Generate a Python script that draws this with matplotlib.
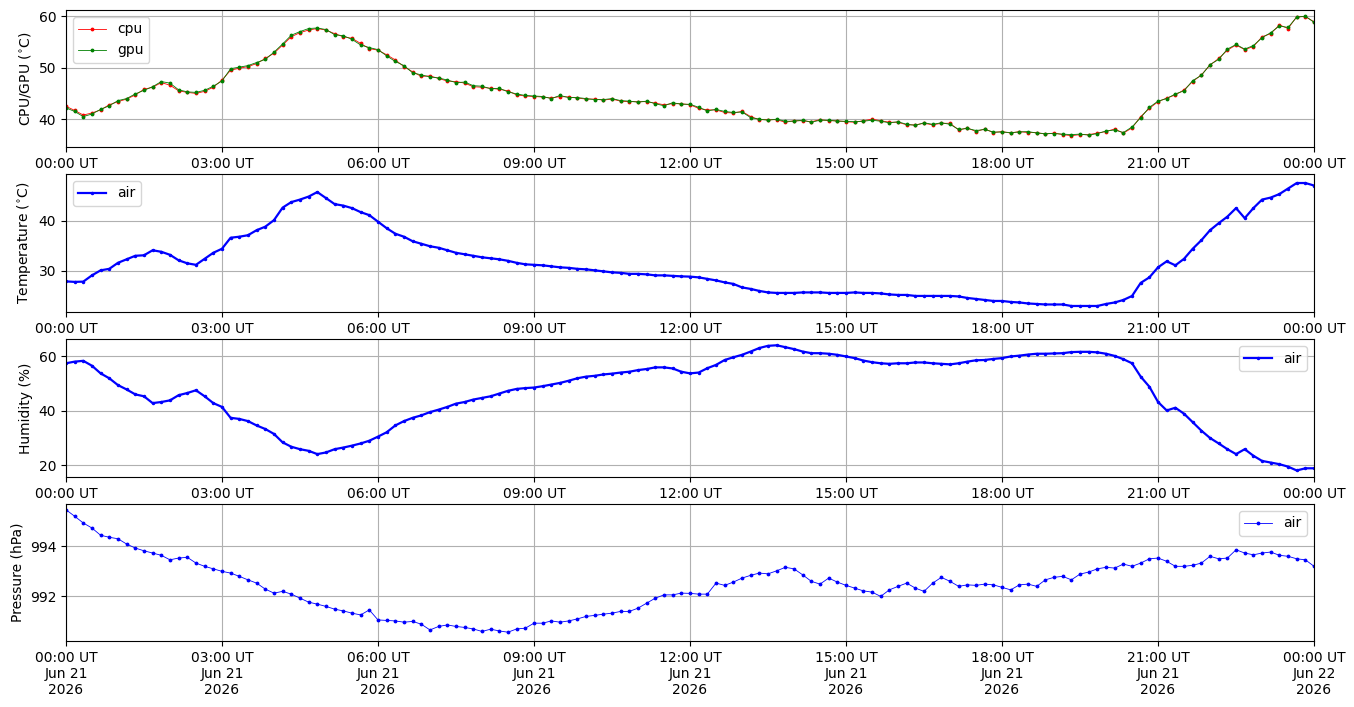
import numpy as np
import matplotlib
matplotlib.use('Agg')
import matplotlib.pyplot as plt
import matplotlib.dates as mdates
from matplotlib.ticker import MultipleLocator

# readings every 10 minutes, Jun 21 2026 00:00 -> Jun 22 00:00 (UT)
times = np.arange(np.datetime64('2026-06-21T00:00'), np.datetime64('2026-06-22T00:10'),
                  np.timedelta64(10, 'm'))

cpu = [42.5, 41.7, 40.8, 41.2, 41.8, 42.8,
       43.4, 43.9, 44.7, 45.8, 46.2, 47.1,
       46.6, 45.5, 45.2, 45.0, 45.4, 46.2,
       47.6, 49.5, 49.9, 50.2, 50.8, 51.8,
       52.8, 54.4, 56.0, 56.8, 57.3, 57.6,
       57.3, 56.6, 56.0, 55.7, 54.7, 53.7,
       53.4, 52.5, 51.5, 50.2, 49.2, 48.3,
       48.4, 47.9, 47.4, 47.3, 47.0, 46.3,
       46.2, 46.0, 45.8, 45.5, 44.7, 44.5,
       44.4, 44.3, 44.1, 44.4, 44.3, 44.1,
       43.9, 43.9, 43.7, 43.9, 43.5, 43.4,
       43.4, 43.4, 43.1, 42.8, 43.0, 43.0,
       42.8, 42.1, 41.8, 41.8, 41.3, 41.2,
       41.5, 40.5, 39.9, 39.9, 39.9, 39.4,
       39.7, 39.7, 39.5, 39.9, 39.7, 39.7,
       39.5, 39.4, 39.7, 40.0, 39.7, 39.4,
       39.4, 38.9, 38.9, 39.2, 38.9, 39.2,
       39.2, 37.9, 38.3, 37.6, 38.1, 37.4,
       37.6, 37.3, 37.6, 37.4, 37.4, 37.1,
       37.3, 37.0, 36.8, 37.0, 37.0, 37.3,
       37.6, 38.1, 37.3, 38.3, 40.5, 42.1,
       43.4, 44.1, 44.7, 45.7, 47.3, 48.6,
       50.5, 51.8, 53.4, 54.4, 53.5, 54.1,
       56.0, 56.6, 58.3, 57.6, 59.9, 59.9,
       58.9]

gpu = [42.2, 41.5, 40.5, 41.0, 41.9, 42.6,
       43.6, 44.0, 44.9, 45.6, 46.3, 47.3,
       47.0, 45.7, 45.3, 45.2, 45.6, 46.4,
       47.4, 49.8, 50.1, 50.4, 51.0, 51.6,
       53.0, 54.6, 56.3, 57.0, 57.6, 57.7,
       57.4, 56.4, 56.2, 55.5, 54.4, 53.9,
       53.5, 52.3, 51.2, 50.4, 49.0, 48.6,
       48.2, 48.0, 47.6, 47.1, 47.2, 46.5,
       46.4, 45.9, 46.0, 45.3, 44.9, 44.6,
       44.5, 44.4, 44.0, 44.6, 44.2, 44.2,
       44.0, 43.8, 43.8, 44.0, 43.6, 43.5,
       43.3, 43.5, 43.0, 42.6, 43.2, 42.9,
       42.9, 42.3, 41.6, 41.9, 41.5, 41.3,
       41.4, 40.3, 40.0, 39.8, 40.0, 39.6,
       39.6, 39.8, 39.4, 39.8, 39.8, 39.6,
       39.6, 39.5, 39.6, 39.8, 39.6, 39.3,
       39.5, 39.0, 38.8, 39.3, 39.0, 39.3,
       39.0, 38.0, 38.2, 37.8, 38.0, 37.5,
       37.5, 37.4, 37.5, 37.6, 37.3, 37.2,
       37.2, 37.1, 37.0, 37.1, 36.9, 37.2,
       37.7, 37.9, 37.4, 38.5, 40.3, 42.3,
       43.5, 44.0, 44.9, 45.5, 47.5, 48.5,
       50.6, 51.6, 53.6, 54.5, 53.6, 54.3,
       55.8, 56.8, 58.1, 57.8, 59.8, 60.0,
       58.8]

air_temp = [27.9, 27.8, 27.85, 29.1, 30.1, 30.4,
            31.6, 32.3, 33.0, 33.1, 34.1, 33.8,
            33.2, 32.1, 31.5, 31.2, 32.4, 33.6,
            34.4, 36.6, 36.8, 37.1, 38.1, 38.8,
            40.1, 42.6, 43.7, 44.2, 44.8, 45.7,
            44.5, 43.3, 43.0, 42.5, 41.7, 41.1,
            39.8, 38.5, 37.4, 36.8, 35.9, 35.4,
            34.9, 34.6, 34.1, 33.6, 33.3, 33.0,
            32.7, 32.5, 32.3, 32.0, 31.6, 31.3,
            31.2, 31.1, 30.9, 30.7, 30.6, 30.4,
            30.3, 30.1, 29.9, 29.7, 29.6, 29.4,
            29.4, 29.3, 29.1, 29.1, 29.0, 28.9,
            28.85, 28.7, 28.4, 28.1, 27.7, 27.4,
            26.7, 26.4, 26.0, 25.7, 25.6, 25.6,
            25.6, 25.7, 25.7, 25.7, 25.6, 25.6,
            25.6, 25.7, 25.6, 25.6, 25.5, 25.3,
            25.2, 25.2, 25.0, 25.0, 25.0, 25.0,
            25.0, 24.9, 24.6, 24.4, 24.2, 24.0,
            24.0, 23.8, 23.7, 23.5, 23.4, 23.3,
            23.3, 23.3, 23.0, 23.0, 23.0, 23.0,
            23.4, 23.7, 24.2, 25.0, 27.6, 28.7,
            30.7, 31.9, 31.1, 32.4, 34.4, 36.1,
            38.1, 39.5, 40.8, 42.5, 40.5, 42.5,
            44.2, 44.6, 45.3, 46.4, 47.5, 47.5,
            47.0]

humidity = [57.4, 58.0, 58.3, 56.5, 53.7, 51.9,
            49.4, 47.8, 46.0, 45.3, 42.8, 43.2,
            43.8, 45.7, 46.5, 47.5, 45.3, 42.8,
            41.4, 37.4, 37.0, 36.2, 34.6, 33.3,
            31.5, 28.4, 26.8, 25.9, 25.3, 24.1,
            24.7, 25.9, 26.5, 27.2, 28.0, 29.0,
            30.5, 32.1, 34.6, 36.2, 37.4, 38.3,
            39.5, 40.4, 41.4, 42.6, 43.2, 44.1,
            44.7, 45.3, 46.3, 47.3, 48.0, 48.3,
            48.5, 49.0, 49.6, 50.2, 51.0, 51.9,
            52.5, 52.8, 53.3, 53.6, 54.0, 54.3,
            54.9, 55.3, 55.9, 55.9, 55.5, 54.3,
            53.7, 54.0, 55.6, 56.8, 58.6, 59.6,
            60.5, 61.7, 63.0, 63.8, 64.0, 63.3,
            62.6, 61.7, 61.1, 61.1, 60.9, 60.5,
            59.9, 59.3, 58.4, 57.8, 57.4, 57.2,
            57.4, 57.4, 57.7, 57.7, 57.4, 57.2,
            57.0, 57.4, 58.0, 58.5, 58.6, 59.0,
            59.3, 59.9, 60.2, 60.6, 60.9, 60.9,
            61.0, 61.1, 61.5, 61.6, 61.6, 61.4,
            60.9, 60.1, 58.9, 57.4, 52.5, 48.8,
            43.2, 40.1, 41.1, 38.9, 35.8, 32.7,
            30.0, 28.0, 25.9, 24.1, 25.9, 23.5,
            21.6, 21.0, 20.4, 19.5, 18.1, 18.9,
            18.9]

pressure = [995.45, 995.19, 994.92, 994.72, 994.43, 994.35,
            994.29, 994.08, 993.92, 993.81, 993.72, 993.63,
            993.45, 993.52, 993.55, 993.32, 993.19, 993.09,
            992.99, 992.92, 992.79, 992.65, 992.52, 992.28,
            992.12, 992.19, 992.08, 991.92, 991.76, 991.68,
            991.59, 991.48, 991.41, 991.32, 991.25, 991.45,
            991.05, 991.03, 991.01, 990.96, 990.99, 990.88,
            990.65, 990.79, 990.85, 990.79, 990.75, 990.69,
            990.59, 990.68, 990.61, 990.56, 990.69, 990.72,
            990.92, 990.92, 991.01, 990.96, 991.01, 991.09,
            991.19, 991.23, 991.28, 991.32, 991.39, 991.39,
            991.52, 991.72, 991.92, 992.05, 992.05, 992.12,
            992.11, 992.08, 992.08, 992.52, 992.43, 992.56,
            992.72, 992.83, 992.92, 992.89, 993.01, 993.15,
            993.09, 992.85, 992.59, 992.48, 992.72, 992.56,
            992.43, 992.32, 992.21, 992.16, 991.99, 992.25,
            992.39, 992.52, 992.32, 992.19, 992.52, 992.75,
            992.59, 992.39, 992.45, 992.43, 992.48, 992.45,
            992.35, 992.25, 992.45, 992.48, 992.39, 992.65,
            992.75, 992.79, 992.65, 992.88, 992.96, 993.09,
            993.15, 993.12, 993.28, 993.19, 993.32, 993.49,
            993.52, 993.39, 993.19, 993.19, 993.23, 993.32,
            993.59, 993.49, 993.52, 993.85, 993.72, 993.65,
            993.72, 993.76, 993.63, 993.59, 993.49, 993.45,
            993.19]

fig = plt.figure(figsize=(13.54, 7.07), dpi=100)

boxes = [(0.0487, 0.7921, 0.9218, 0.1938),
         (0.0487, 0.5587, 0.9218, 0.1952),
         (0.0487, 0.3253, 0.9218, 0.1952),
         (0.0487, 0.0934, 0.9218, 0.1938)]
axes = [fig.add_axes(b) for b in boxes]

thin = dict(marker='.', markersize=3.5, linewidth=0.6)
thick = dict(marker='.', markersize=3, linewidth=1.6)

ax1, ax2, ax3, ax4 = axes
ax1.plot(times, cpu, color='red', label='cpu', **thin)
ax1.plot(times, gpu, color='green', label='gpu', **thin)
ax1.set_ylabel('CPU/GPU ($^{\\circ}$C)')
ax1.set_ylim(34.6, 61.2)
ax1.yaxis.set_major_locator(MultipleLocator(10))
ax1.legend(loc='upper left')

ax2.plot(times, air_temp, color='blue', label='air', **thick)
ax2.set_ylabel('Temperature ($^{\\circ}$C)')
ax2.set_ylim(21.8, 49.3)
ax2.yaxis.set_major_locator(MultipleLocator(10))
ax2.legend(loc='upper left')

ax3.plot(times, humidity, color='blue', label='air', **thick)
ax3.set_ylabel('Humidity (%)')
ax3.set_ylim(15.7, 66.3)
ax3.yaxis.set_major_locator(MultipleLocator(20))
ax3.legend(loc='upper right')

ax4.plot(times, pressure, color='blue', label='air', **thin)
ax4.set_ylabel('Pressure (hPa)')
ax4.set_ylim(990.21, 995.68)
ax4.yaxis.set_major_locator(MultipleLocator(2))
ax4.legend(loc='upper right')

for i, ax in enumerate(axes):
    ax.set_xlim(times[0], times[-1])
    ax.xaxis.set_major_locator(mdates.HourLocator(byhour=range(0, 24, 3)))
    if i < 3:
        ax.xaxis.set_major_formatter(mdates.DateFormatter('%H:%M UT'))
    else:
        ax.xaxis.set_major_formatter(mdates.DateFormatter('%H:%M UT\n%b %d\n%Y'))
    ax.grid(True)

plt.savefig('out.png')
